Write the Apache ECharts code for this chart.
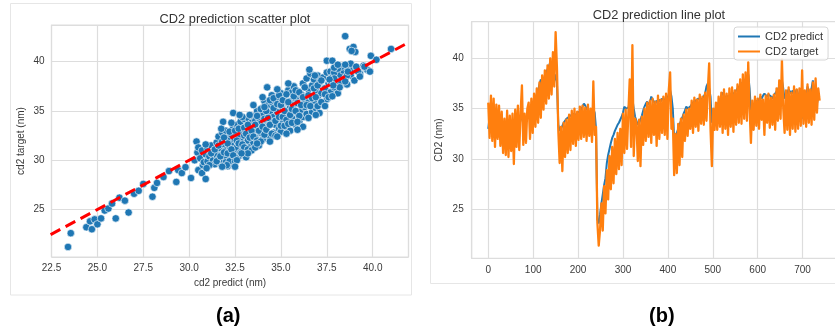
<!DOCTYPE html>
<html>
<head>
<meta charset="utf-8">
<script src="https://cdn.jsdelivr.net/npm/echarts@6/dist/echarts.min.js"></script>
<style>
html, body { margin: 0; padding: 0; background: #fff; }
#chart { width: 835px; height: 335px; }
</style>
</head>
<body>
<div id="chart"></div>
<script>
// (a) scatter: [cd2 predict, cd2 target] pairs
var scatterTail = [
    [23.4, 21.2], [23.55, 22.6], [24.4, 23.2], [24.6, 23.8], [24.7, 23.0], [24.85, 24.0],
    [25.0, 23.5], [25.2, 24.1], [25.4, 24.9], [25.6, 25.1], [25.8, 25.6], [26.0, 24.1],
    [26.2, 26.2], [26.5, 25.9], [26.7, 24.7], [27.0, 26.6], [27.25, 26.9], [27.5, 27.6],
    [28.0, 26.3], [28.1, 27.2], [28.25, 27.7], [28.6, 28.3], [28.9, 28.9], [29.3, 27.8],
    [29.4, 29.0], [29.6, 28.7], [29.8, 29.3], [30.1, 28.2], [30.3, 30.0], [30.5, 29.0],
    [30.7, 28.7], [30.9, 28.1], [30.75, 29.5], [30.45, 30.8], [30.4, 31.9], [30.5, 31.3]
];
var scatterCore = [
    [30.6, 30.2], [30.7, 31.0], [30.8, 29.8], [30.9, 30.6], [31.0, 31.2], [31.0, 29.9], [31.1, 30.4],
    [31.2, 31.5], [31.3, 30.0], [31.3, 30.9], [31.4, 29.6], [31.5, 31.8], [31.5, 30.5],
    [31.6, 32.4], [31.6, 30.1], [31.7, 31.2], [31.7, 29.7], [31.8, 32.8], [31.8, 30.6], [31.9, 31.6],
    [31.9, 29.9], [32.0, 33.0], [32.0, 31.0], [32.0, 30.3], [32.1, 32.2], [32.1, 29.4], [32.2, 31.4],
    [32.2, 30.7], [32.3, 32.6], [32.3, 30.1], [32.4, 33.3], [32.4, 31.8], [32.4, 29.6], [32.5, 32.1],
    [32.5, 30.9], [32.6, 33.6], [32.6, 31.3], [32.7, 32.4], [32.7, 30.4], [32.8, 33.9], [32.8, 31.9],
    [32.9, 32.9], [32.9, 31.0], [33.0, 34.2], [33.0, 32.5], [33.0, 30.8], [33.1, 33.4], [33.1, 31.6],
    [33.2, 32.0], [33.2, 34.3], [33.3, 33.0], [33.3, 31.3], [33.4, 33.8], [33.4, 32.5], [33.5, 34.5],
    [33.5, 31.8], [33.5, 33.1], [33.6, 34.0], [33.6, 32.3], [33.7, 35.0], [33.7, 33.3], [33.8, 31.5],
    [33.8, 34.3], [33.9, 32.8], [33.9, 33.7], [34.0, 35.3], [34.0, 32.1], [34.0, 34.6], [34.1, 33.2],
    [34.1, 36.0], [34.2, 34.0], [34.2, 32.6], [34.3, 35.6], [34.3, 33.5], [34.4, 34.8], [34.4, 32.3],
    [34.5, 35.9], [34.5, 33.9], [34.5, 36.6], [34.6, 34.4], [34.6, 32.8], [34.7, 35.4], [34.7, 33.6],
    [34.8, 36.2], [34.8, 34.9], [34.9, 33.2], [34.9, 35.7], [35.0, 34.2], [35.0, 36.8], [35.0, 32.9],
    [35.1, 35.2], [35.1, 33.8], [35.2, 36.4], [35.2, 34.6], [35.3, 35.9], [35.3, 33.4], [35.4, 37.1],
    [35.4, 34.9], [35.5, 36.0], [35.5, 33.0], [35.5, 35.4], [35.6, 36.9], [35.6, 34.3], [35.7, 35.6],
    [35.7, 37.5], [35.8, 33.6], [35.8, 36.3], [35.9, 34.8], [35.9, 37.0], [36.0, 35.8], [36.0, 33.9],
    [36.1, 36.7], [36.1, 35.1], [36.2, 37.8], [36.2, 34.4], [36.3, 36.1], [36.3, 35.4], [36.4, 38.3],
    [36.4, 34.7], [36.5, 37.2], [36.5, 35.9], [36.6, 36.5], [36.6, 38.8], [36.7, 34.9], [36.7, 37.6],
    [36.8, 36.0], [36.8, 38.2], [36.9, 35.3], [36.9, 37.0], [37.0, 38.6], [37.0, 36.4], [37.1, 34.8],
    [37.1, 37.9], [37.2, 36.8], [37.3, 38.4], [37.3, 35.7], [37.4, 37.3], [37.5, 38.9], [37.5, 36.2],
    [37.6, 37.8], [37.7, 39.0], [37.7, 36.9], [37.8, 38.4], [37.9, 37.4], [38.0, 39.3], [38.0, 38.0],
    [38.1, 36.8], [38.2, 38.7], [38.3, 37.9], [38.4, 39.1], [38.5, 38.3], [38.6, 37.7], [38.6, 39.4],
    [38.8, 38.6], [38.9, 39.2], [39.0, 38.1], [39.1, 39.4], [39.3, 38.8], [39.5, 39.6],
    [30.9, 31.6], [31.1, 29.5], [31.2, 30.7], [31.4, 31.1], [31.5, 29.9], [31.6, 31.5], [31.7, 30.4],
    [31.8, 31.9], [31.9, 30.8], [31.9, 32.3], [32.0, 29.8], [32.1, 30.7], [32.1, 31.7], [32.2, 32.9],
    [32.2, 29.9], [32.3, 31.1], [32.3, 33.8], [32.4, 30.5], [32.5, 33.0], [32.5, 29.9], [32.6, 32.0],
    [32.6, 30.0], [32.7, 31.7], [32.7, 33.2], [32.8, 30.8], [32.9, 34.4], [32.9, 31.6], [33.0, 31.3],
    [33.0, 33.3], [33.1, 30.3], [33.1, 32.7], [33.2, 31.1], [33.2, 33.6], [33.3, 32.3], [33.3, 34.6],
    [33.4, 31.0], [33.4, 33.0], [33.5, 32.4], [33.6, 33.6], [33.6, 31.3], [33.7, 32.0], [33.7, 34.5],
    [33.8, 33.0], [33.9, 35.2], [33.9, 31.9], [34.0, 33.4], [34.1, 34.2], [34.1, 32.6], [34.2, 35.0],
    [34.2, 33.1], [34.3, 34.3], [34.4, 36.1], [34.4, 33.6], [34.5, 32.7], [34.6, 35.3], [34.6, 36.3],
    [34.7, 34.0], [34.7, 32.5], [34.8, 35.7], [34.9, 34.4], [34.9, 36.6], [35.0, 33.5], [35.0, 35.6],
    [35.1, 36.1], [35.1, 34.4], [35.2, 33.5], [35.2, 35.0], [35.3, 34.1], [35.3, 36.7], [35.4, 33.7],
    [35.4, 35.9], [35.5, 34.6], [35.6, 35.2], [35.6, 33.8], [35.7, 36.5], [35.8, 35.0], [35.8, 37.1],
    [35.9, 35.8], [36.0, 34.5], [36.0, 36.9], [36.1, 35.6], [36.2, 36.4], [36.2, 33.4], [36.3, 37.4],
    [36.4, 35.6], [36.5, 34.3], [36.5, 36.6], [36.6, 35.5], [36.7, 36.3], [36.8, 37.3], [36.9, 36.4],
    [37.0, 35.5], [37.0, 37.6], [37.2, 38.1], [37.2, 35.9], [37.4, 36.7], [37.6, 36.4], [37.7, 38.0],
    [37.9, 38.9], [38.2, 37.4], [38.3, 39.5], [38.6, 38.6], [38.8, 39.8], [39.2, 39.0]
];
var scatterEdge = [
    [38.5, 42.6], [38.75, 41.3], [38.95, 41.5], [39.05, 41.0], [38.85, 41.1], [41.0, 41.3],
    [39.9, 40.6], [40.2, 40.2], [37.5, 40.1], [37.8, 40.1], [38.1, 39.3], [38.5, 39.7],
    [39.3, 38.5], [39.7, 39.2], [39.85, 39.0], [39.55, 39.5], [39.1, 39.5], [38.65, 39.0],
    [38.5, 38.0], [37.9, 38.3], [37.65, 38.2], [37.85, 37.6], [37.8, 36.5], [37.4, 35.5],
    [36.9, 34.6], [35.9, 33.9], [35.9, 33.1], [35.3, 32.7], [34.8, 32.4], [34.4, 31.9],
    [33.7, 31.7], [33.2, 30.7], [32.85, 30.7], [32.5, 29.35], [32.05, 29.5], [31.8, 29.35],
    [30.95, 29.2], [31.85, 33.9], [31.75, 33.2], [32.4, 34.8], [32.75, 34.6], [33.5, 35.6],
    [34.1, 35.4], [34.25, 37.4], [34.0, 36.4], [34.8, 37.2], [35.4, 37.8], [36.55, 39.2],
    [36.85, 38.6], [37.9, 39.4], [38.1, 39.7]
];
var diagonalEnds = [22.45, 41.95];

// (b) sequences, one value every 3rd sample index (0, 3, ... 738)
var sampleStep = 3;
var linePredict = [
    33.0, 34.2, 34.0, 33.6, 33.8, 33.3, 33.5, 33.1, 33.4, 33.0,
    33.2, 32.8, 33.4, 32.9, 33.5, 33.0, 33.1, 32.6, 33.3, 32.7,
    33.4, 33.0, 33.7, 33.3, 33.9, 34.5, 33.6, 34.0, 33.8, 34.2,
    34.5, 34.6, 35.0, 35.2, 35.6, 35.9, 36.4, 36.8, 37.4, 37.9,
    37.6, 37.9, 38.2, 38.5, 38.9, 39.2, 39.6, 39.4, 39.0, 37.8,
    38.4, 37.5, 33.4, 32.8, 33.0, 33.3, 33.6, 33.8, 34.0, 34.1,
    34.2, 34.1, 34.4, 34.3, 34.5, 34.2, 34.6, 34.5, 34.7, 34.8,
    35.2, 35.5, 35.3, 35.0, 34.8, 34.9, 34.6, 34.7, 35.0, 34.6,
    33.0, 24.0, 23.6, 24.5, 25.6, 26.5, 27.4, 28.1, 29.6, 30.4,
    31.0, 31.6, 32.1, 32.4, 32.8, 33.1, 33.4, 33.6, 33.9, 34.2,
    34.6, 35.2, 35.0, 34.9, 35.1, 35.6, 35.4, 36.0, 35.0, 34.2,
    33.8, 33.4, 33.6, 33.9, 34.3, 34.8, 35.2, 35.5, 35.7, 35.4,
    35.6, 36.2, 35.9, 35.7, 35.5, 35.8, 35.6, 35.9, 35.7, 36.0,
    36.0, 35.8, 36.2, 36.0, 36.4, 36.8, 36.2, 35.0, 32.0, 32.3,
    32.6, 33.0, 33.4, 33.8, 34.1, 34.5, 34.8, 35.2, 35.0, 35.1,
    35.2, 35.4, 35.6, 35.5, 35.8, 35.7, 36.0, 36.1, 35.9, 36.0,
    36.2, 36.5, 37.2, 37.5, 37.0, 36.2, 33.6, 34.0, 34.4, 35.2,
    35.4, 35.6, 35.8, 36.2, 36.6, 36.4, 36.0, 36.2, 36.1, 36.3,
    36.2, 36.4, 36.3, 36.6, 36.8, 37.0, 37.1, 37.3, 37.5, 37.6,
    37.7, 37.9, 38.2, 38.4, 37.0, 34.8, 35.0, 35.3, 35.5, 35.7,
    35.8, 35.9, 36.2, 36.0, 36.3, 36.5, 36.6, 36.2, 36.4, 36.3,
    36.2, 36.0, 36.3, 36.5, 36.6, 36.9, 37.2, 37.5, 37.8, 37.0,
    36.0, 36.3, 36.6, 36.9, 36.7, 36.5, 36.8, 36.4, 36.6, 36.9,
    36.4, 36.2, 35.4, 34.0, 35.6, 36.0, 36.3, 37.2, 36.6, 36.2,
    37.0, 37.8, 36.4, 36.0, 35.5, 36.2, 36.1
];
var lineTarget = [
    35.6, 32.1, 36.3, 31.8, 36.0, 31.2, 35.4, 32.0, 35.3, 31.3,
    34.7, 30.6, 34.0, 30.4, 34.8, 30.2, 34.3, 30.8, 34.5, 29.5,
    34.9, 31.2, 35.3, 30.9, 34.6, 37.3, 31.4, 34.5, 31.6, 35.0,
    35.6, 32.0, 36.0, 32.6, 36.5, 33.2, 37.0, 33.6, 37.6, 34.1,
    38.3, 34.9, 38.8, 35.5, 39.3, 36.0, 40.0, 36.4, 40.6, 37.2,
    42.6, 39.0, 32.8, 29.6, 33.2, 28.8, 33.6, 30.2, 33.9, 30.6,
    34.4, 30.9, 34.8, 31.5, 35.0, 31.3, 34.7, 31.9, 35.2, 32.0,
    35.3, 32.2, 35.1, 31.8, 35.4, 32.3, 35.0, 31.7, 37.7, 32.4,
    33.2, 23.7, 21.4, 23.0, 25.6, 22.9, 27.3, 24.6, 28.9, 26.0,
    30.3, 27.0, 31.2, 27.6, 32.0, 28.5, 32.6, 29.0, 33.0, 29.4,
    34.5, 30.6, 34.9, 31.0, 34.6, 37.9, 31.2, 41.3, 30.3, 34.0,
    33.6, 29.8, 33.9, 29.3, 34.2, 31.4, 35.0, 31.8, 35.6, 32.2,
    35.8, 31.6, 36.0, 32.4, 35.7, 31.3, 36.3, 32.0, 35.9, 32.6,
    36.2, 32.4, 36.5, 32.0, 36.8, 38.6, 33.0, 34.0, 28.4, 32.5,
    28.6, 33.5, 29.4, 34.0, 30.2, 34.4, 31.8, 34.9, 32.3, 35.0,
    33.0, 35.8, 32.6, 36.1, 33.2, 35.9, 32.8, 36.4, 33.5, 36.2,
    33.4, 36.6, 33.8, 36.9, 39.5, 33.0, 29.3, 35.0, 32.9, 35.6,
    32.9, 36.2, 33.2, 36.6, 32.6, 36.9, 33.0, 36.5, 32.4, 37.0,
    33.2, 37.1, 32.7, 36.8, 33.4, 37.4, 33.6, 37.9, 33.5, 38.4,
    34.0, 38.6, 33.8, 39.6, 35.0, 31.6, 35.8, 32.9, 36.2, 33.3,
    36.0, 33.0, 36.4, 33.9, 35.9, 32.4, 36.3, 33.6, 36.5, 33.1,
    36.1, 33.4, 36.4, 32.9, 37.0, 33.8, 37.8, 34.0, 39.9, 35.0,
    32.6, 36.8, 32.9, 37.1, 32.4, 36.6, 33.0, 37.2, 32.7, 36.9,
    33.0, 37.0, 33.3, 38.8, 33.5, 36.8, 33.2, 37.4, 33.6, 36.9,
    33.4, 37.6, 33.9, 38.0, 34.6, 37.0, 35.8
];

var scatterPoints = scatterTail.concat(scatterCore, scatterEdge);
var predictSeries = linePredict.map(function (v, k) { return [k * sampleStep, v]; });
var targetSeries = lineTarget.map(function (v, k) { return [k * sampleStep, v]; });

var textColor = '#3a3a3a';
var fontName = 'Liberation Sans';
var gridLine = { show: true, lineStyle: { color: '#dddddd', width: 1.2 } };

function onStep(step, fmt) {
    return function (v) {
        var r = v / step;
        return Math.abs(r - Math.round(r)) < 1e-6 ? fmt(v) : '';
    };
}

var chart = echarts.init(document.getElementById('chart'));
var option = {
    animation: false,
    textStyle: { fontFamily: fontName },
    title: [{
        text: 'CD2 prediction scatter plot',
        left: 230, top: 8, textAlign: 'center',
        textStyle: { fontSize: 12.8, fontWeight: 'normal', color: '#333' }
    }, {
        text: 'CD2 prediction line plot',
        left: 654, top: 4, textAlign: 'center',
        textStyle: { fontSize: 12.8, fontWeight: 'normal', color: '#333' }
    }],
    legend: {
        data: ['CD2 predict', 'CD2 target'],
        orient: 'vertical',
        left: 734, top: 27,
        icon: 'rect', itemWidth: 22, itemHeight: 2, itemGap: 4,
        padding: [4, 5, 3, 4],
        backgroundColor: 'rgba(255,255,255,0.85)',
        borderColor: '#d6d6d6', borderWidth: 1, borderRadius: 3,
        textStyle: { fontSize: 11, color: '#333', fontFamily: fontName }
    },
    grid: [
        { left: 51.5, top: 25, width: 357, height: 232, show: true, borderColor: '#dddddd', borderWidth: 1.2, outerBoundsMode: 'none' },
        { left: 471.7, top: 21.7, width: 364.5, height: 236.6, show: true, borderColor: '#dddddd', borderWidth: 1.2, outerBoundsMode: 'none' }
    ],
    xAxis: [{
        gridIndex: 0, type: 'value', min: 22.5, max: 41.95,
        splitNumber: 8, minInterval: 2.5, maxInterval: 2.5,
        axisLine: { show: false }, axisTick: { show: false }, splitLine: gridLine,
        axisLabel: { color: textColor, fontSize: 10, margin: 6, formatter: onStep(2.5, function (v) { return v.toFixed(1); }) },
        name: 'cd2 predict (nm)', nameLocation: 'middle', nameGap: 21,
        nameTextStyle: { color: textColor, fontSize: 10 }
    }, {
        gridIndex: 1, type: 'value', min: -36.9, max: 774.9,
        splitNumber: 8, minInterval: 100, maxInterval: 100,
        axisLine: { show: false }, axisTick: { show: false }, splitLine: gridLine,
        axisLabel: { color: textColor, fontSize: 10, margin: 7, formatter: onStep(100, String) }
    }],
    yAxis: [{
        gridIndex: 0, type: 'value', min: 20.18, max: 43.73,
        splitNumber: 5, minInterval: 5, maxInterval: 5,
        axisLine: { show: false }, axisTick: { show: false }, splitLine: gridLine,
        axisLabel: { color: textColor, fontSize: 10, margin: 7, formatter: onStep(5, String) },
        name: 'cd2 target (nm)', nameLocation: 'middle', nameGap: 25,
        nameTextStyle: { color: textColor, fontSize: 10 }
    }, {
        gridIndex: 1, type: 'value', min: 20.15, max: 43.63,
        splitNumber: 5, minInterval: 5, maxInterval: 5,
        axisLine: { show: false }, axisTick: { show: false }, splitLine: gridLine,
        axisLabel: { color: textColor, fontSize: 10, margin: 8, formatter: onStep(5, String) },
        name: 'CD2 (nm)', nameLocation: 'middle', nameGap: 27,
        nameTextStyle: { color: textColor, fontSize: 10 }
    }],
    series: [{
        type: 'scatter', xAxisIndex: 0, yAxisIndex: 0,
        data: scatterPoints, symbolSize: 7.5,
        itemStyle: { color: '#1f77b4', borderColor: '#ffffff', borderWidth: 0.6, opacity: 1 },
        z: 2
    }, {
        type: 'line', xAxisIndex: 0, yAxisIndex: 0,
        data: diagonalEnds.map(function (v) { return [v, v]; }),
        symbol: 'none', silent: true,
        lineStyle: { color: '#ff0000', width: 3, type: [11, 6] },
        z: 3
    }, {
        name: 'CD2 predict', type: 'line', xAxisIndex: 1, yAxisIndex: 1,
        data: predictSeries, symbol: 'none', sampling: null,
        itemStyle: { color: '#1f77b4' },
        lineStyle: { color: '#1f77b4', width: 2 },
        z: 2
    }, {
        name: 'CD2 target', type: 'line', xAxisIndex: 1, yAxisIndex: 1,
        data: targetSeries, symbol: 'none', sampling: null,
        itemStyle: { color: '#ff7f0e' },
        lineStyle: { color: '#ff7f0e', width: 2.3, join: 'round' },
        z: 3
    }],
    graphic: [{
        type: 'rect', silent: true, z: -1,
        shape: { x: 10.5, y: 3.5, width: 401, height: 291.5 },
        style: { fill: null, stroke: '#e6e6e6', lineWidth: 1 }
    }, {
        type: 'rect', silent: true, z: -1,
        shape: { x: 430.5, y: -2, width: 410, height: 285.5 },
        style: { fill: null, stroke: '#e6e6e6', lineWidth: 1 }
    }, {
        type: 'text', left: 216, top: 306,
        style: { text: '(a)', font: 'bold 20px "Liberation Sans"', fill: '#000' }
    }, {
        type: 'text', left: 649, top: 306,
        style: { text: '(b)', font: 'bold 20px "Liberation Sans"', fill: '#000' }
    }]
};
chart.setOption(option);
</script>
</body>
</html>
